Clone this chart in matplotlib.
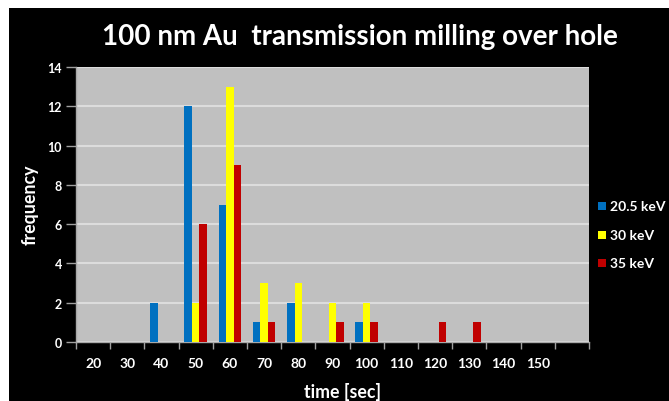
import matplotlib
matplotlib.use("Agg")
import matplotlib.pyplot as plt
import numpy as np
from matplotlib.patches import Rectangle

# ==============================================
categories = ["20", "30", "40", "50", "60", "70", "80", "90", "100",
              "110", "120", "130", "140", "150", ""]
series_names = ["20.5 keV", "30 keV", "35 keV"]
freq_20_5 = [0, 0, 2, 12, 7, 1, 2, 0, 1, 0, 0, 0, 0, 0, 0]
freq_30 = [0, 0, 0, 2, 13, 3, 3, 2, 2, 0, 0, 0, 0, 0, 0]
freq_35 = [0, 0, 0, 6, 9, 1, 0, 1, 1, 0, 1, 1, 0, 0, 0]
y_ticks = [0, 2, 4, 6, 8, 10, 12, 14]

colors = ["#0070C0", "#FFFF00", "#C00000"]
title = "100 nm Au  transmission milling over hole"

plt.rcParams["font.family"] = ["Lato", "DejaVu Sans"]
plt.rcParams["font.weight"] = "bold"

# ==============================================
W, H = 669, 402
fig = plt.figure(figsize=(W / 100, H / 100), dpi=100)
fig.patch.set_facecolor("white")
# black chart area with thin white border at top/left
bg = fig.add_axes([9 / W, 0, 1 - 9 / W, 1 - 9 / H], zorder=-10)
bg.set_facecolor("black")
bg.set_xticks([])
bg.set_yticks([])
for s in bg.spines.values():
    s.set_visible(False)

left, right, top, bottom = 76, 589, 68, 343
ax = fig.add_axes([left / W, (H - bottom) / H, (right - left) / W, (bottom - top) / H])
ax.set_facecolor("#C0C0C0")

x = np.arange(len(categories))
bw = 0.222
for i, (vals, name) in enumerate(zip([freq_20_5, freq_30, freq_35], series_names)):
    ax.bar(x + (i - 1) * bw, vals, width=bw, color=colors[i], label=name, zorder=3)

ax.set_xlim(-0.5, len(categories) - 0.5)
ax.set_ylim(0, 14)
ax.set_yticks(y_ticks)
ax.set_yticklabels([str(t) for t in y_ticks], fontsize=9, color="white", fontweight="bold")
ax.set_xticks(x)
ax.set_xticklabels(categories, fontsize=10, color="white", fontweight="bold")
ax.set_xticks(np.arange(len(categories) + 1) - 0.5, minor=True)
ax.tick_params(axis="x", which="major", length=0, pad=11)
ax.tick_params(axis="x", which="minor", length=5, color="#A0A0A0", width=1)
ax.tick_params(axis="y", length=7, color="#A0A0A0", width=1, pad=3)

ax.grid(axis="y", color="#DCDCDC", linewidth=1.5, zorder=1)
ax.set_axisbelow(True)
for s in ["top", "right"]:
    ax.spines[s].set_visible(False)
for s in ["left", "bottom"]:
    ax.spines[s].set_color("#A8A8A8")
    ax.spines[s].set_linewidth(1)

fig.text(360 / W, 1 - 37 / H, title, ha="center", va="center",
         color="white", fontsize=20, fontweight="bold")
fig.text(343 / W, 1 - 392 / H, "time [sec]", ha="center", va="center",
         color="white", fontsize=12.8, fontweight="bold")
fig.text(30 / W, 1 - 205 / H, "frequency", ha="center", va="center", rotation=90,
         color="white", fontsize=12.8, fontweight="bold")

# legend drawn as manual entries (kept just inside the right edge)
leg_y = [207, 236, 264]
for name, c, yy in zip(series_names, colors, leg_y):
    fig.patches.append(Rectangle((598 / W, 1 - (yy + 4) / H), 8 / W, 8 / H,
                                 transform=fig.transFigure, facecolor=c,
                                 edgecolor="none", zorder=5))
    fig.text(610 / W, 1 - yy / H, name, ha="left", va="center",
             color="white", fontsize=10, fontweight="bold")

fig.savefig("out.png", dpi=100, facecolor=fig.get_facecolor())
